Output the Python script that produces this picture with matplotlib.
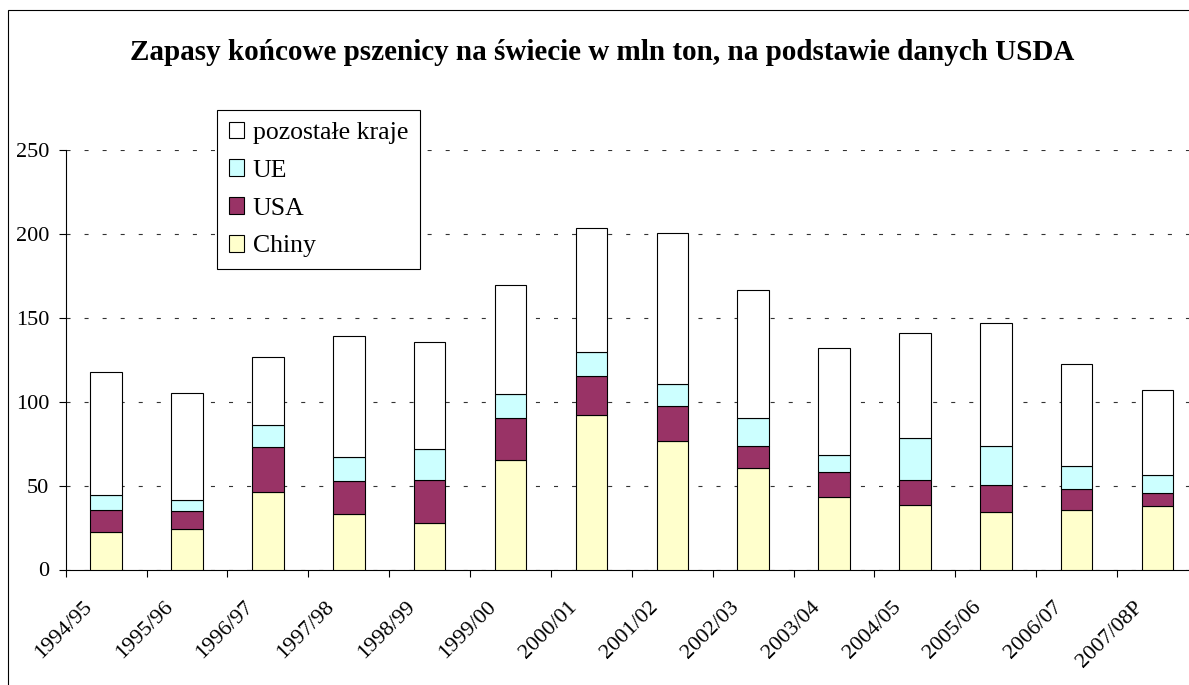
import matplotlib
matplotlib.use("Agg")
import matplotlib.pyplot as plt
from matplotlib.patches import Rectangle
from matplotlib.transforms import ScaledTranslation
import numpy as np

categories = ["1994/95", "1995/96", "1996/97", "1997/98", "1998/99", "1999/00", "2000/01",
              "2001/02", "2002/03", "2003/04", "2004/05", "2005/06", "2006/07", "2007/08P"]
chiny = [22.1, 24.1, 46.1, 33.0, 27.5, 65.2, 91.8, 76.3, 60.4, 43.2, 38.4, 34.4, 35.2, 37.6]
usa = [13.3, 10.5, 26.8, 19.7, 25.8, 25.2, 23.8, 21.0, 13.3, 15.0, 14.9, 15.7, 12.7, 7.9]
ue = [9.1, 6.9, 13.5, 14.1, 18.4, 14.2, 13.9, 13.5, 16.7, 10.1, 25.2, 23.6, 13.9, 10.9]
pozostale = [73.3, 63.8, 40.3, 72.4, 64.1, 65.2, 74.2, 89.7, 76.4, 64.0, 62.3, 73.2, 60.7, 50.6]

series = [("Chiny", chiny, "#FFFFCC"), ("USA", usa, "#993366"),
          ("UE", ue, "#CCFFFF"), ("pozostałe kraje", pozostale, "#FFFFFF")]
yticks = [0, 50, 100, 150, 200, 250]
title = "Zapasy końcowe pszenicy na świecie w mln ton, na podstawie danych USDA"

plt.rcParams['font.family'] = ['Liberation Serif', 'DejaVu Serif']
plt.rcParams['lines.scale_dashes'] = False

W, H = 1189, 685
fig = plt.figure(figsize=(W / 100, H / 100), dpi=100)
ax_left, ax_right, ax_bottom, ax_top = 65.7, 1198.0, 569.5, 150.0
ax = fig.add_axes([ax_left / W, (H - ax_bottom) / H, (ax_right - ax_left) / W, (ax_bottom - ax_top) / H])

x = np.arange(len(categories))
bottom = np.zeros(len(categories))
handles = []
for name, vals, col in series:
    b = ax.bar(x, vals, width=0.39, bottom=bottom, color=col, edgecolor="black",
               linewidth=0.8, label=name, zorder=3)
    handles.append(b)
    bottom = bottom + np.array(vals)

ax.set_xlim(-0.5, len(categories) - 0.5)
ax.set_ylim(0, 250)
ax.set_yticks(yticks)
ax.set_yticklabels([str(v) for v in yticks], fontsize=16)
ax.tick_params(axis='y', direction='out', length=5, width=0.8, pad=7, color='black')
ax.set_xticks(np.arange(len(categories) + 1) - 0.5)
ax.set_xticklabels([])
ax.tick_params(axis='x', direction='out', length=5, width=0.8, color='black')
for s in ['top', 'right']:
    ax.spines[s].set_visible(False)
for s in ['left', 'bottom']:
    ax.spines[s].set_linewidth(0.8)
    ax.spines[s].set_color('black')
ax.yaxis.grid(True, color='#333333', linestyle=(0, (2.9, 10.1)), linewidth=0.8, zorder=0)
ax.set_axisbelow(True)

trans = ax.get_xaxis_transform() + ScaledTranslation(-17 / 100, -35 / 100, fig.dpi_scale_trans)
for i, lab in enumerate(categories):
    ax.text(i, 0, lab, transform=trans, rotation=45, ha='right', va='center',
            rotation_mode='anchor', fontsize=16)

fig.text(602 / W, 1 - 52 / H, title, ha='center', va='center', fontsize=21, fontweight='bold')

leg = fig.legend(handles[::-1], [s[0] for s in series][::-1], loc='upper left',
                 bbox_to_anchor=(217 / W, 1 - 110 / H), bbox_transform=fig.transFigure,
                 fontsize=18.5, frameon=True, fancybox=False, shadow=False, framealpha=1,
                 edgecolor='black', borderaxespad=0, borderpad=0.45, labelspacing=0.6,
                 handlelength=0.62, handleheight=0.62, handletextpad=0.32)
leg.get_frame().set_linewidth(0.8)

fig.patches.append(Rectangle((7.5 / W, -0.1), 2, (H - 10) / H + 0.1, transform=fig.transFigure,
                             fill=False, edgecolor='black', linewidth=0.8))

fig.savefig("out.png", dpi=100)
